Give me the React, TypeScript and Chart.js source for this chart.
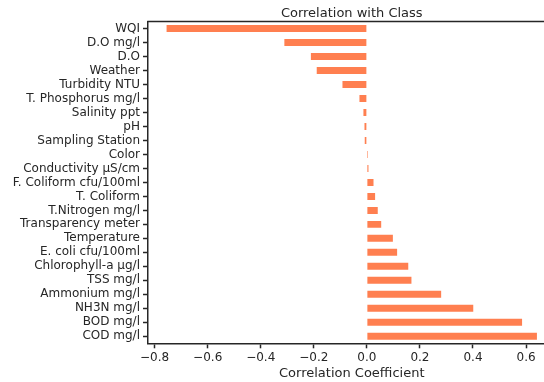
import React, { useEffect, useRef } from "react";
import { Chart, registerables } from "chart.js";

Chart.register(...registerables);

const categories = [
  "WQI",
  "D.O mg/l",
  "D.O",
  "Weather",
  "Turbidity NTU",
  "T. Phosphorus mg/l",
  "Salinity ppt",
  "pH",
  "Sampling Station",
  "Color",
  "Conductivity µS/cm",
  "F. Coliform cfu/100ml",
  "T. Coliform",
  "T.Nitrogen mg/l",
  "Transparency meter",
  "Temperature",
  "E. coli cfu/100ml",
  "Chlorophyll-a µg/l",
  "TSS mg/l",
  "Ammonium mg/l",
  "NH3N mg/l",
  "BOD mg/l",
  "COD mg/l",
];

const correlations = [
  -0.755, -0.311, -0.211, -0.189, -0.092, -0.028, -0.013, -0.009, -0.008,
  0.004, 0.006, 0.025, 0.031, 0.041, 0.054, 0.098, 0.114, 0.156, 0.168, 0.28,
  0.401, 0.585, 0.641,
];

const xTicks = [-0.8, -0.6, -0.4, -0.2, 0.0, 0.2, 0.4, 0.6];
const xMin = -0.825;
const xMax = 0.711;

const titleText = "Correlation with Class";
const xLabelText = "Correlation Coefficient";

const TEXT = "#262626";
const BAR = "#FF7F50";
const FONT = '"DejaVu Sans"';

const framePlugin = {
  id: "frameAndTitles",
  afterDraw(chart: any) {
    const { ctx, chartArea } = chart;
    const { left, right, top, bottom } = chartArea;
    ctx.save();
    ctx.strokeStyle = TEXT;
    ctx.lineWidth = 1.5;
    ctx.beginPath();
    ctx.moveTo(left - 0.75, top);
    ctx.lineTo(right + 0.75, top);
    ctx.moveTo(right, top);
    ctx.lineTo(right, bottom);
    ctx.stroke();
    ctx.fillStyle = TEXT;
    ctx.font = `13px ${FONT}`;
    ctx.textAlign = "center";
    ctx.textBaseline = "alphabetic";
    const cx = (left + right) / 2;
    ctx.fillText(titleText, cx, 16.7);
    ctx.fillText(xLabelText, cx, 376.7);
    ctx.restore();
  },
};

export default function App() {
  const ref = useRef<HTMLCanvasElement | null>(null);

  useEffect(() => {
    if (!ref.current) return;
    const chart = new Chart(ref.current, {
      type: "bar",
      data: {
        labels: categories,
        datasets: [
          {
            data: correlations,
            backgroundColor: BAR,
            borderWidth: 0,
            barPercentage: 0.5,
            categoryPercentage: 1.0,
          },
        ],
      },
      options: {
        indexAxis: "y",
        animation: false,
        responsive: false,
        maintainAspectRatio: false,
        layout: { padding: { left: 0, right: 4.5, top: 21.5, bottom: 0 } },
        plugins: {
          legend: { display: false },
          title: { display: false },
          tooltip: { enabled: false },
        },
        scales: {
          x: {
            type: "linear",
            min: xMin,
            max: xMax,
            afterFit: (scale: any) => {
              scale.height = 382 - 343.3;
            },
            afterBuildTicks: (scale: any) => {
              scale.ticks = xTicks.map((v) => ({ value: v }));
            },
            ticks: {
              color: TEXT,
              font: { family: FONT, size: 12 },
              padding: 2,
              maxRotation: 0,
              callback: (v: any) =>
                (Number(v) < -1e-9 ? "\u2212" : "") + Math.abs(Number(v)).toFixed(1),
            },
            grid: {
              display: true,
              drawOnChartArea: false,
              drawTicks: true,
              tickLength: 5,
              tickColor: TEXT,
              tickWidth: 1.5,
            },
            border: { display: true, color: TEXT, width: 1.5 },
          },
          y: {
            type: "category",
            offset: true,
            afterFit: (scale: any) => {
              scale.width = 148;
            },
            ticks: {
              color: TEXT,
              font: { family: FONT, size: 12 },
              padding: 3,
              autoSkip: false,
            },
            grid: {
              display: true,
              offset: false,
              drawOnChartArea: false,
              drawTicks: true,
              tickLength: 5,
              tickColor: TEXT,
              tickWidth: 1.5,
            },
            border: { display: true, color: TEXT, width: 1.5 },
          },
        },
      },
      plugins: [framePlugin],
    });
    return () => chart.destroy();
  }, []);

  return (
    <div
      style={{
        position: "absolute",
        left: 0,
        top: 0,
        width: 544,
        height: 382,
        overflow: "hidden",
        background: "#fff",
      }}
    >
      <canvas ref={ref} width={560} height={382} style={{ display: "block" }} />
    </div>
  );
}
